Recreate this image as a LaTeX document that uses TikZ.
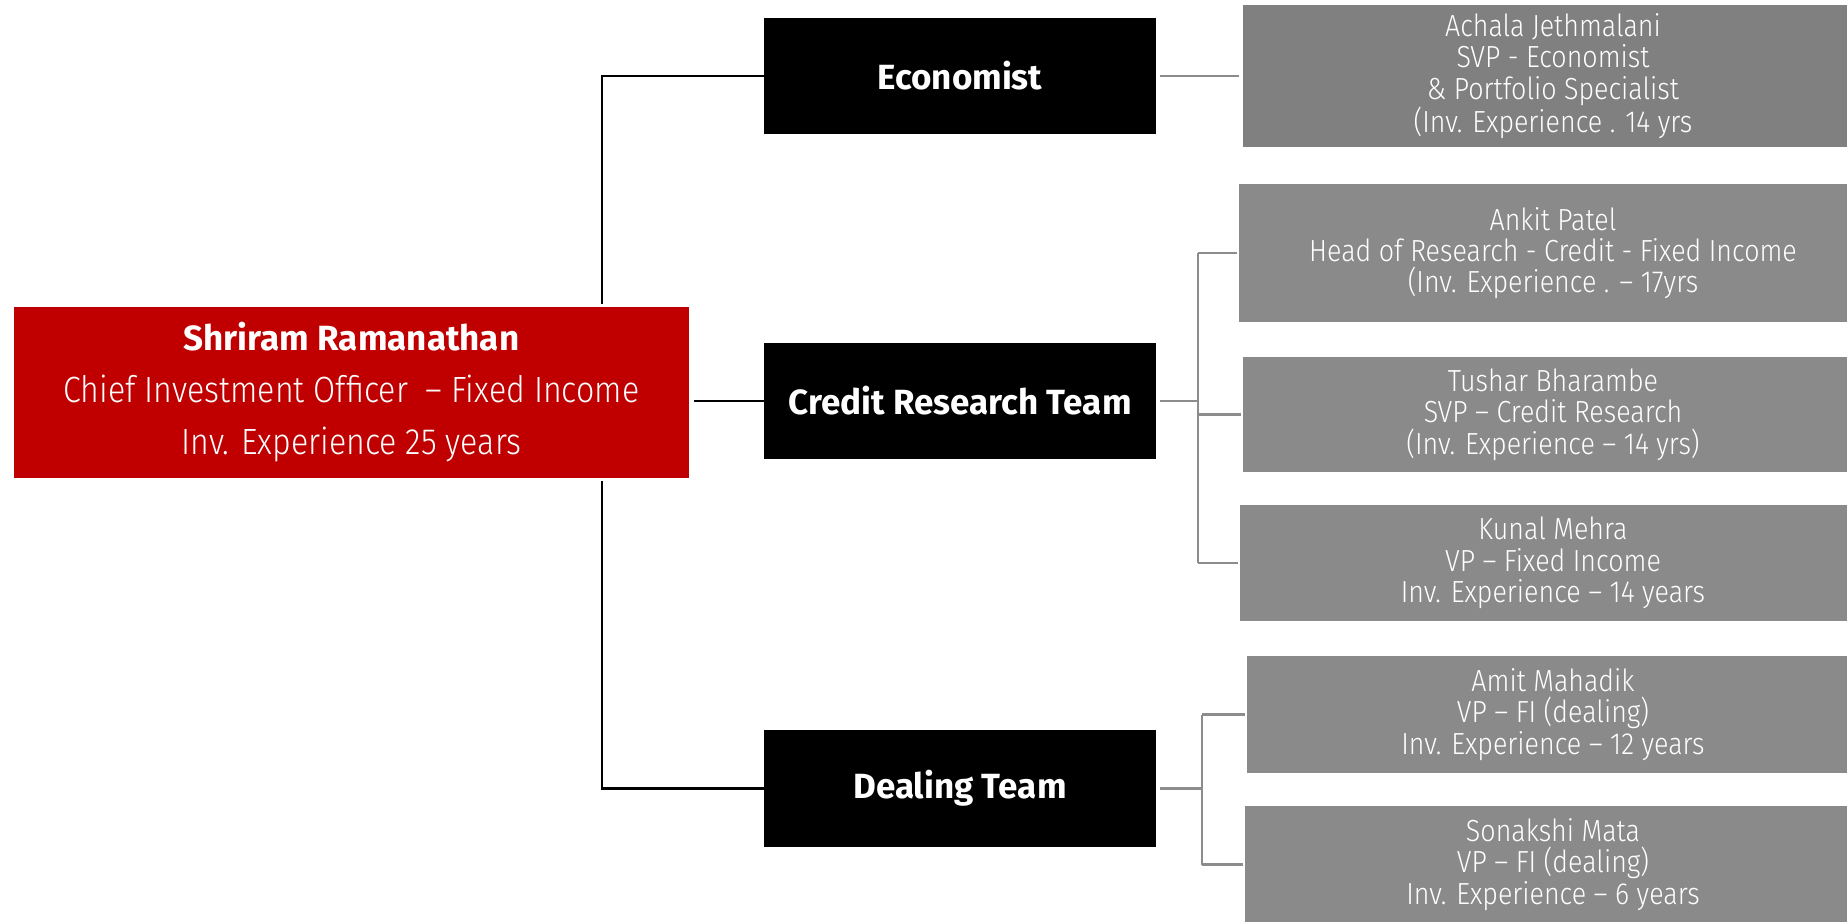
\documentclass[tikz,border=0pt]{standalone}
\usepackage{fontspec}
\setmainfont{Fira Sans Light}[BoldFont={Fira Sans SemiBold}, FakeStretch=0.88]
\newfontfamily\hfbold{Fira Sans Bold}
\begin{document}
\begin{tikzpicture}[x=1pt,y=-1pt,
  redbox/.style={fill=redc, text=white, inner sep=0pt, align=center},
  blackbox/.style={fill=black, text=white, inner sep=0pt, align=center, minimum width=392pt, font=\hfbold\fontsize{35}{40}\selectfont},
  graybox/.style={fill=grayc, text=white, inner sep=0pt, align=center, minimum width=620pt, font=\fontsize{30.5}{31.3}\selectfont},
  blackline/.style={draw=black, line width=2.5pt},
  grayline/.style={draw=linec, line width=2.5pt}]
\definecolor{redc}{RGB}{192,0,0}
\definecolor{grayc}{RGB}{138,138,138}
\definecolor{grayd}{RGB}{128,128,128}
\definecolor{linec}{RGB}{140,140,140}
\useasboundingbox (0,0) rectangle (1847,921);
\fill[white] (0,0) rectangle (1847,921);
% red box
\node[redbox, minimum width=675pt, minimum height=171pt, font=\fontsize{36.5}{52}\selectfont] (red) at (351.5,392.5)
  {{\hfbold\fontsize{35}{52}\selectfont Shriram Ramanathan}\\
   Chief Investment Officer \ -- Fixed Income\\
   Inv. Experience 25 years};
% black boxes
\node[blackbox, minimum height=116pt] (eco) at (960,76) {Economist};
\node[blackbox, minimum height=116pt] (cred) at (960,401) {Credit Research Team};
\node[blackbox, minimum height=117pt] (deal) at (960,788.5) {Dealing Team};
% gray boxes
\node[graybox, fill=grayd, minimum height=142pt] (achala) at (1553,76)
  {Achala Jethmalani\\SVP - Economist\\\& Portfolio Specialist\\(Inv. Experience . 14 yrs};
\node[graybox, minimum width=628pt, minimum height=138pt] (ankit) at (1553,253)
  {Ankit Patel\\Head of Research - Credit - Fixed Income\\(Inv. Experience . -- 17yrs};
\node[graybox, minimum height=115pt] (tushar) at (1553,414.5)
  {Tushar Bharambe\\SVP -- Credit Research\\(Inv. Experience -- 14 yrs)};
\node[graybox, minimum width=626pt, minimum height=116pt] (kunal) at (1553,563)
  {Kunal Mehra\\VP -- Fixed Income\\Inv. Experience -- 14 years};
\node[graybox, minimum width=612pt, minimum height=117pt] (amit) at (1553,714.5)
  {Amit Mahadik\\VP -- FI (dealing)\\Inv. Experience -- 12 years};
\node[graybox, minimum width=616pt, minimum height=117pt] (sona) at (1553,864.5)
  {Sonakshi Mata\\VP -- FI (dealing)\\Inv. Experience -- 6 years};
% connectors
\coordinate (spine) at (602,0);
\coordinate (ctrunk) at (1198,0);
\coordinate (dtrunk) at (1202,0);
\draw[blackline] (eco.west) -| ([yshift=3pt]red.north -| spine);
\draw[blackline] ([yshift=-3pt]red.south -| spine) |- (deal.west);
\draw[blackline] ([xshift=5pt]red.east |- cred.west) -- (cred.west);
\draw[grayline, shorten <=4pt, shorten >=4pt] (eco.east) -- (achala.west);
\draw[grayline, shorten <=4pt] (cred.east) -- (cred.east -| ctrunk);
\draw[grayline] (ctrunk |- ankit.west) -- (ctrunk |- kunal.west);
\draw[grayline, shorten >=2pt] (ctrunk |- ankit.west) -- (ankit.west);
\draw[grayline, shorten >=2pt] (ctrunk |- tushar.west) -- (tushar.west);
\draw[grayline, shorten >=2pt] (ctrunk |- kunal.west) -- (kunal.west);
\draw[grayline, shorten <=4pt] (deal.east) -- (deal.east -| dtrunk);
\draw[grayline] (dtrunk |- amit.west) -- (dtrunk |- sona.west);
\draw[grayline, shorten >=2pt] (dtrunk |- amit.west) -- (amit.west);
\draw[grayline, shorten >=2pt] (dtrunk |- sona.west) -- (sona.west);
\end{tikzpicture}
\end{document}
